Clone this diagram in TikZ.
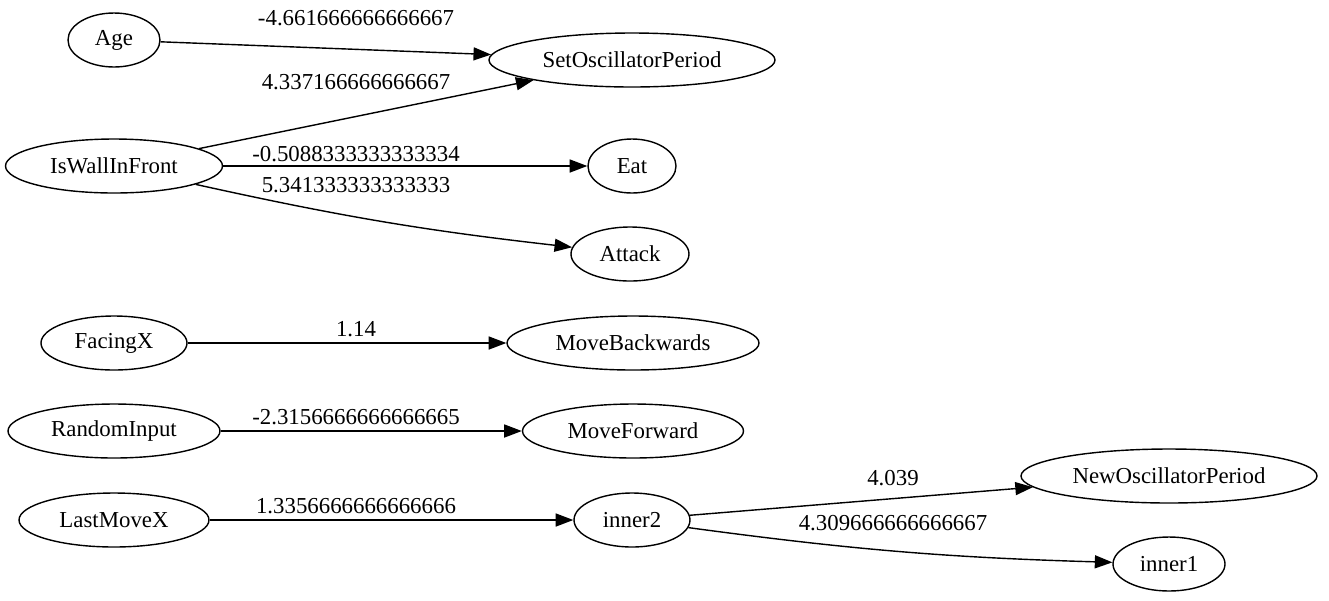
\documentclass[tikz,border=0pt]{standalone}
\usepackage{fontspec}
\setmainfont{Liberation Serif}
\newfontfamily\graphfont{Liberation Serif}
\usetikzlibrary{arrows.meta, shapes.geometric}
\tikzset{
  unit/.style={draw=black, ellipse, line width=0.8pt, inner sep=0pt, minimum height=1.08cm,
    font=\graphfont\fontsize{13}{15}\selectfont},
  wlabel/.style={font=\graphfont\fontsize{13}{15}\selectfont, inner sep=0pt},
  link/.style={-{Triangle[length=10pt, width=7.4pt]}, draw=black, line width=0.8pt},
}
\begin{document}
\begin{tikzpicture}[x=0.02cm, y=-0.02cm]
  \useasboundingbox (0,0) rectangle (1329,600);
  % ---- neurons: name/x/y/width/text
  \foreach \n/\x/\y/\w/\t in {age/114/40/92/Age, setosc/632/60/286/SetOscillatorPeriod,
      wall/114/166/217/IsWallInFront, eat/632/166/88/Eat, attack/630/254/118/Attack,
      facing/114/343/146/FacingX, moveback/633/343/252/MoveBackwards,
      random/114/431/212/RandomInput, movefwd/633/431/221/MoveForward,
      lastmove/114/520/190/LastMoveX, innertwo/632/520/116/inner2,
      newosc/1169/476/296/NewOscillatorPeriod, innerone/1169/564/112/inner1} {
    \node[unit, minimum width=\w*0.02cm] (\n) at (\x,\y) {\t};
  }
  % ---- weights
  \node[wlabel] (wage) at (356,18) {-4.661666666666667};
  \node[wlabel] (wwallosc) at (356,82) {4.337166666666667};
  \node[wlabel] (wwalleat) at (356,154) {-0.5088333333333334};
  \node[wlabel] (wwallatt) at (356,185) {5.341333333333333};
  \node[wlabel] (wfacing) at (356,329) {1.14};
  \node[wlabel] (wrandom) at (356,417) {-2.3156666666666665};
  \node[wlabel] (wlast) at (356,506) {1.3356666666666666};
  \node[wlabel] (wnewosc) at (893,478) {4.039};
  \node[wlabel] (winner) at (893,523) {4.309666666666667};
  % ---- links
  \draw[link] (age) -- (setosc);
  \draw[link] (wall) -- (setosc);
  \draw[link] (wall) -- (eat);
  \draw[link] (wall) to[bend right=3] (attack);
  \draw[link] (facing) -- (moveback);
  \draw[link] (random) -- (movefwd);
  \draw[link] (lastmove) -- (innertwo);
  \draw[link] (innertwo) -- (newosc);
  \draw[link] (innertwo) to[bend right=3] (innerone);
\end{tikzpicture}
\end{document}
